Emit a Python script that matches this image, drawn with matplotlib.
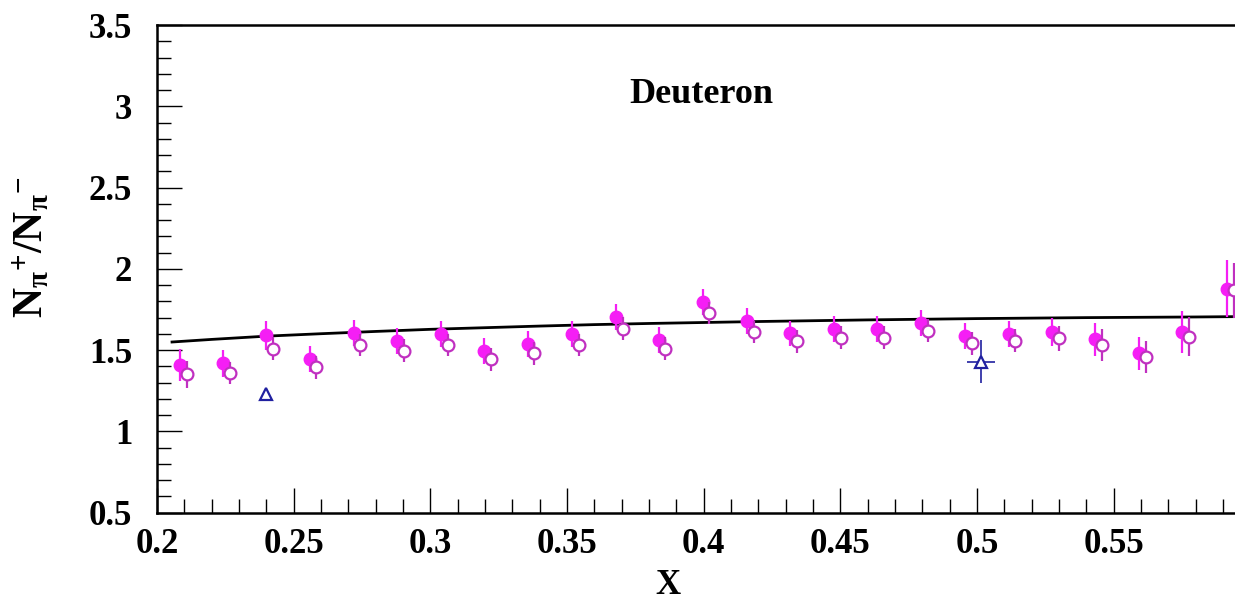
import numpy as np
import matplotlib
matplotlib.use("Agg")
import matplotlib.pyplot as plt
from matplotlib.ticker import MultipleLocator

# filled points (first set)
x_fill = [0.2083, 0.2241, 0.2400, 0.2558, 0.2719, 0.2878, 0.3039, 0.3198, 0.3356,
          0.3518, 0.3681, 0.3835, 0.3996, 0.4159, 0.4315, 0.4476, 0.4634, 0.4795,
          0.4958, 0.5116, 0.5275, 0.5433, 0.5592, 0.5750, 0.5914]
y_fill = [1.408, 1.418, 1.592, 1.443, 1.603, 1.557, 1.598, 1.496, 1.537,
          1.598, 1.701, 1.561, 1.797, 1.680, 1.603, 1.627, 1.627, 1.668,
          1.586, 1.598, 1.612, 1.566, 1.480, 1.612, 1.879]
e_fill = [0.10, 0.085, 0.09, 0.08, 0.08, 0.08, 0.08, 0.08, 0.08,
          0.08, 0.08, 0.08, 0.08, 0.08, 0.075, 0.08, 0.08, 0.08,
          0.08, 0.08, 0.085, 0.10, 0.10, 0.13, 0.175]

# open points (second set)
x_open = [0.2108, 0.2266, 0.2425, 0.2583, 0.2744, 0.2903, 0.3064, 0.3223, 0.3381,
          0.3543, 0.3706, 0.3860, 0.4021, 0.4184, 0.4340, 0.4501, 0.4659, 0.4820,
          0.4983, 0.5141, 0.5300, 0.5458, 0.5617, 0.5775, 0.5939]
y_open = [1.351, 1.360, 1.510, 1.394, 1.531, 1.496, 1.531, 1.443, 1.480,
          1.531, 1.633, 1.510, 1.729, 1.612, 1.555, 1.576, 1.576, 1.619,
          1.541, 1.557, 1.572, 1.531, 1.459, 1.582, 1.869]
e_open = [0.085, 0.07, 0.07, 0.07, 0.07, 0.07, 0.07, 0.07, 0.07,
          0.07, 0.07, 0.07, 0.07, 0.07, 0.07, 0.07, 0.07, 0.07,
          0.07, 0.07, 0.075, 0.10, 0.10, 0.12, 0.17]

# triangles
x_tri = [0.2400, 0.5015]
y_tri = [1.231, 1.430]
xe_tri = [0.0, 0.005]
ye_tri = [0.0, 0.13]

# model curve
x_curve = [0.2055, 0.22, 0.24, 0.26, 0.28, 0.30, 0.32, 0.34, 0.36, 0.38, 0.40,
           0.42, 0.44, 0.46, 0.48, 0.50, 0.52, 0.54, 0.56, 0.58, 0.5944]
y_curve = [1.550, 1.566, 1.586, 1.601, 1.615, 1.628, 1.638, 1.648, 1.657, 1.664, 1.670,
           1.676, 1.681, 1.686, 1.690, 1.694, 1.697, 1.700, 1.702, 1.704, 1.706]

plt.rcParams['font.family'] = ['Liberation Serif', 'DejaVu Serif']
plt.rcParams['font.weight'] = 'bold'
plt.rcParams['mathtext.fontset'] = 'custom'
plt.rcParams['mathtext.rm'] = 'Liberation Serif:bold'
plt.rcParams['mathtext.it'] = 'Liberation Serif:bold'
plt.rcParams['mathtext.bf'] = 'Liberation Serif:bold'

fig = plt.figure(figsize=(12.35, 6), dpi=100)
ax = fig.add_axes([157 / 1235, 1 - 512.7 / 600, 1 - 157 / 1235, (512.7 - 25) / 600])

ax.plot(x_curve, y_curve, color='black', lw=2, zorder=2)

ax.errorbar(x_fill, y_fill, yerr=e_fill, fmt='o', color='#f51ef5', ms=9,
            mec='#f51ef5', elinewidth=1.6, capsize=0, zorder=3)
ax.errorbar(x_open, y_open, yerr=e_open, fmt='o', color='#c030c0', ms=8.5,
            mfc='white', mec='#c030c0', mew=1.6, elinewidth=1.6, capsize=0, zorder=4)
ax.errorbar(x_tri, y_tri, xerr=xe_tri, yerr=ye_tri, fmt='^', color='#2020a0', ms=9,
            mfc='white', mec='#2020a0', mew=1.6, elinewidth=1.2, capsize=0, zorder=4)

ax.set_xlim(0.2, 0.2 + (1235 - 157) / 2733)
ax.set_ylim(0.5, 3.5)
ax.xaxis.set_major_locator(MultipleLocator(0.05))
ax.xaxis.set_minor_locator(MultipleLocator(0.01))
ax.yaxis.set_major_locator(MultipleLocator(0.5))
ax.yaxis.set_minor_locator(MultipleLocator(0.1))
ax.xaxis.set_major_formatter(plt.FuncFormatter(lambda v, p: ('%.2f' % v).rstrip('0')))
ax.yaxis.set_major_formatter(plt.FuncFormatter(lambda v, p: ('%.1f' % v).rstrip('0').rstrip('.')))

ax.tick_params(which='both', direction='in', top=False, right=False, labelsize=25, width=1)
ax.tick_params(which='major', length=18)
ax.tick_params(which='minor', length=10)
ax.tick_params(axis='x', pad=11)
ax.tick_params(axis='y', pad=18)
for lab in ax.get_xticklabels() + ax.get_yticklabels():
    lab.set_fontweight('bold')

for s in ['left', 'bottom', 'top']:
    ax.spines[s].set_linewidth(1.8)
ax.spines['right'].set_visible(False)

ax.text(0.399, 3.07, 'Deuteron', fontsize=26, fontweight='bold', ha='center', va='center')

fig.text(668 / 1235, 1 - 585 / 600, 'X', fontsize=25, fontweight='bold', ha='center', va='center')
fig.text(32 / 1235, 1 - 247 / 600, r'$\mathrm{N}_{\pi}{}^{+}/\mathrm{N}_{\pi}{}^{-}$',
         fontsize=30, rotation=90, ha='center', va='center')

fig.savefig('out.png', dpi=100)
